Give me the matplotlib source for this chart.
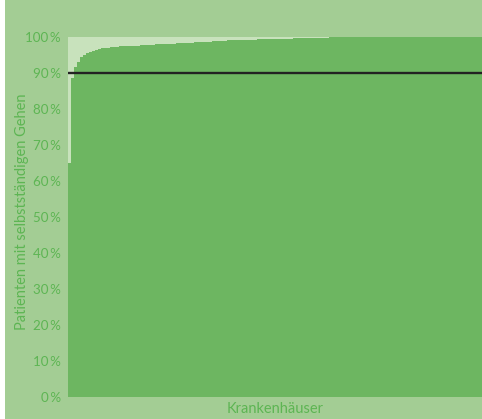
import matplotlib.pyplot as plt
from matplotlib.patches import Rectangle

# share of patients walking independently, hospitals sorted ascending (%)
werte = [
    65.0, 88.5, 91.5, 93.0, 94.3, 95.0, 95.5, 95.8, 96.1, 96.3, 96.5, 96.7,
    96.8, 96.9, 97.0, 97.1, 97.2, 97.3, 97.4,
    97.4, 97.4, 97.5, 97.5, 97.5, 97.6, 97.6, 97.6, 97.7, 97.7, 97.8, 97.8,
    97.8, 97.9, 97.9, 98.0, 98.0, 98.1, 98.1, 98.2, 98.2, 98.3,
    98.3, 98.4, 98.4, 98.5, 98.5, 98.6, 98.6, 98.7, 98.7, 98.8,
    98.8, 98.8, 98.9, 98.9, 98.9, 99.0, 99.0, 99.0, 99.1, 99.1,
    99.1, 99.1, 99.2, 99.2, 99.2, 99.2, 99.3, 99.3, 99.3, 99.3,
    99.4, 99.4, 99.4, 99.4, 99.5, 99.5, 99.5,
    99.6, 99.6, 99.6, 99.6, 99.7, 99.7, 99.7, 99.7, 99.7, 99.8, 99.8, 99.8, 99.8, 99.8,
    100, 100, 100, 100, 100, 100, 100, 100, 100, 100, 100, 100,
    100, 100, 100, 100, 100, 100, 100, 100, 100, 100, 100, 100,
    100, 100, 100, 100, 100, 100, 100, 100, 100, 100, 100, 100,
    100, 100, 100, 100, 100, 100, 100, 100, 100, 100,
]
zielwert = 90
yticks = [0, 10, 20, 30, 40, 50, 60, 70, 80, 90, 100]

aussen = '#a3cd94'
innen = '#c8e2bc'
balken = '#6db661'
schrift = '#5db553'

plt.rcParams['font.family'] = ['Lato', 'DejaVu Sans']

fig = plt.figure(figsize=(4.82, 4.19), dpi=100, facecolor=aussen)
fig.patches.append(Rectangle((0, 0), 5 / 482, 1, transform=fig.transFigure,
                             facecolor='white', edgecolor='none', zorder=0))
ax = fig.add_axes([68 / 482, 1 - 396.5 / 419, 414 / 482, 360 / 419])
ax.set_facecolor(innen)

x = list(range(len(werte)))
ax.bar(x, werte, width=1.0, color=balken, linewidth=0)
ax.axhline(zielwert, color='#222222', linewidth=1.7)

ax.set_xlim(-0.5, len(werte) - 0.5)
ax.set_ylim(0, 100)
ax.set_xticks([])
ax.set_yticks(yticks)
ax.set_yticklabels([f'{v}\u2009%' for v in yticks])
ax.tick_params(axis='y', length=0, pad=5, labelsize=9.6, labelcolor=schrift)
for s in ax.spines.values():
    s.set_visible(False)

fig.text(275 / 482, 1 - 408.5 / 419, 'Krankenhäuser', color=schrift,
         fontsize=10.5, ha='center', va='center')
fig.text(22 / 482, 1 - 212 / 419, 'Patienten mit selbstständigen Gehen', color=schrift,
         fontsize=10.5, rotation=90, ha='center', va='center')

fig.savefig('out.png', dpi=100, facecolor=aussen)
